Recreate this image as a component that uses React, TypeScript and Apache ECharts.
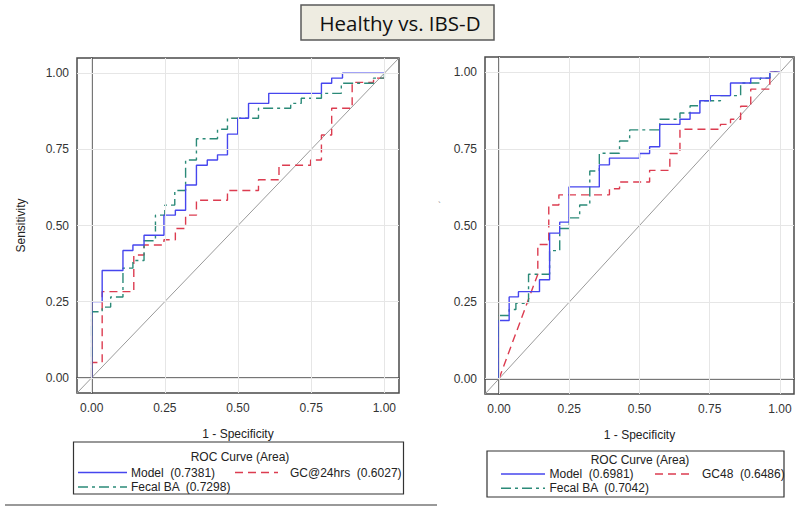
import React, { useEffect, useRef } from "react";
import * as echarts from "echarts";

// Tick values for both axes
const TICKS = [0, 0.25, 0.5, 0.75, 1];

// Step ROC points: [1 - specificity at the rise, sensitivity after the rise]
const LEFT_MODEL: number[][] = [
  [0, 0], [0, 0.25], [0.036, 0.352], [0.107, 0.418], [0.141, 0.436], [0.179, 0.468],
  [0.247, 0.534], [0.286, 0.55], [0.321, 0.633], [0.358, 0.698], [0.395, 0.715],
  [0.43, 0.732], [0.464, 0.8], [0.499, 0.852], [0.536, 0.901], [0.605, 0.934],
  [0.785, 0.967], [0.82, 0.984], [0.857, 1.0], [1.0, 1.0],
];
const LEFT_GC24: number[][] = [
  [0, 0], [0, 0.05], [0.036, 0.283], [0.144, 0.403], [0.179, 0.436], [0.247, 0.453],
  [0.286, 0.49], [0.321, 0.534], [0.358, 0.583], [0.464, 0.615], [0.57, 0.65],
  [0.64, 0.698], [0.748, 0.715], [0.785, 0.797], [0.82, 0.885], [0.89, 0.97],
  [0.963, 0.984], [1.0, 1.0],
];
const LEFT_FECAL: number[][] = [
  [0, 0], [0, 0.217], [0.036, 0.232], [0.065, 0.265], [0.107, 0.36], [0.141, 0.385],
  [0.179, 0.45], [0.218, 0.534], [0.25, 0.567], [0.284, 0.615], [0.321, 0.715],
  [0.358, 0.785], [0.43, 0.816], [0.464, 0.852], [0.57, 0.885], [0.68, 0.901],
  [0.716, 0.918], [0.785, 0.934], [0.853, 0.967], [0.963, 0.984], [1.0, 1.0],
];
const RIGHT_MODEL: number[][] = [
  [0, 0], [0, 0.19], [0.036, 0.267], [0.069, 0.284], [0.144, 0.323], [0.18, 0.475],
  [0.216, 0.511], [0.249, 0.626], [0.357, 0.698], [0.393, 0.72], [0.5, 0.735],
  [0.536, 0.757], [0.572, 0.83], [0.644, 0.847], [0.68, 0.867], [0.715, 0.907],
  [0.752, 0.924], [0.824, 0.965], [0.896, 0.981], [0.964, 1.0], [1.0, 1.0],
];
// GC48 starts with a diagonal (tied) segment from the origin
const RIGHT_GC48_START: number[] = [0, 0];
const RIGHT_GC48: number[][] = [
  [0.138, 0.341], [0.138, 0.438], [0.177, 0.567], [0.213, 0.6], [0.393, 0.62],
  [0.429, 0.642], [0.536, 0.68], [0.608, 0.735], [0.644, 0.814], [0.788, 0.83],
  [0.824, 0.847], [0.86, 0.889], [0.896, 0.945], [0.964, 1.0], [1.0, 1.0],
];
const RIGHT_FECAL: number[][] = [
  [0, 0], [0, 0.206], [0.036, 0.226], [0.06, 0.246], [0.105, 0.341], [0.18, 0.418],
  [0.216, 0.49], [0.25, 0.525], [0.287, 0.567], [0.323, 0.678], [0.357, 0.736],
  [0.429, 0.776], [0.465, 0.812], [0.572, 0.847], [0.644, 0.867], [0.68, 0.891],
  [0.715, 0.907], [0.788, 0.924], [0.86, 0.965], [0.93, 0.981], [0.964, 1.0], [1.0, 1.0],
];

const LEFT_LEGEND = ["Model  (0.7381)", "GC@24hrs  (0.6027)", "Fecal BA  (0.7298)"];
const RIGHT_LEGEND = ["Model  (0.6981)", "GC48  (0.6486)", "Fecal BA  (0.7042)"];
const TITLE = "Healthy vs. IBS-D";

const BLUE = "#4646ee";
const RED = "#dc3c50";
const GREEN = "#2b8a78";
const FONT = "'Liberation Sans', Arial, sans-serif";

function stepify(pts: number[][]): number[][] {
  const out: number[][] = [pts[0]];
  for (let i = 1; i < pts.length; i++) {
    out.push([pts[i][0], pts[i - 1][1]]);
    out.push(pts[i]);
  }
  return out;
}

function axes(idx: number) {
  const common = {
    type: "value",
    gridIndex: idx,
    min: -0.05,
    max: 1.05,
    axisLine: { show: true, lineStyle: { color: "#4a4a4a", width: 1.5 } },
    axisTick: { show: true, customValues: TICKS, length: 4, lineStyle: { color: "#4a4a4a" } },
    axisLabel: {
      customValues: TICKS,
      formatter: (v: number) => v.toFixed(2),
      color: "#333",
      fontSize: 12,
      fontFamily: FONT,
    },
    splitLine: { show: false },
  };
  return {
    x: {
      ...common,
      axisLabel: { ...common.axisLabel, margin: 9 },
      name: "1 - Specificity",
      nameLocation: "middle",
      nameGap: 35,
      nameTextStyle: { color: "#222", fontSize: 12, fontFamily: FONT },
    },
    y: {
      ...common,
      axisLabel: { ...common.axisLabel, margin: 8 },
      name: idx === 0 ? "Sensitivity" : "",
      nameLocation: "middle",
      nameGap: 50,
      nameTextStyle: { color: "#222", fontSize: 12, fontFamily: FONT },
    },
  };
}

function gridSeries(idx: number) {
  return {
    type: "line",
    xAxisIndex: idx,
    yAxisIndex: idx,
    data: [[-0.05, -0.05], [1.05, 1.05]],
    lineStyle: { opacity: 0 },
    symbol: "none",
    silent: true,
    z: 1,
    markLine: {
      silent: true,
      symbol: ["none", "none"],
      label: { show: false },
      lineStyle: { color: "#e6e6e6", type: "solid", width: 1 },
      data: [...TICKS.map((v) => ({ xAxis: v })), ...TICKS.map((v) => ({ yAxis: v }))],
    },
  };
}

function diagSeries(idx: number) {
  return {
    type: "line",
    xAxisIndex: idx,
    yAxisIndex: idx,
    data: [[-0.05, -0.05], [1.05, 1.05]],
    lineStyle: { color: "#9a9a9a", width: 1 },
    symbol: "none",
    silent: true,
    z: 2,
  };
}

function curve(idx: number, data: number[][], color: string, type: any) {
  return {
    type: "line",
    xAxisIndex: idx,
    yAxisIndex: idx,
    data,
    symbol: "none",
    lineStyle: { color, width: 1.4, type },
    z: 3,
  };
}

function legendGraphics(
  box: { x: number; y: number; w: number; h: number },
  titleX: number,
  titleY: number,
  row1: number,
  row2: number,
  s1: [number, number],
  t1: number,
  s2: [number, number],
  t2: number,
  labels: string[]
) {
  const txt = (x: number, y: number, text: string, align = "left") => ({
    type: "text",
    x,
    y,
    style: { text, fill: "#222", font: `12px ${FONT}`, textAlign: align, textVerticalAlign: "middle" },
  });
  const ln = (x1: number, x2: number, y: number, color: string, dash: any) => ({
    type: "line",
    shape: { x1, y1: y, x2, y2: y },
    style: { stroke: color, lineWidth: 1.4, lineDash: dash },
  });
  return [
    {
      type: "rect",
      shape: { x: box.x, y: box.y, width: box.w, height: box.h },
      style: { fill: "#fff", stroke: "#333", lineWidth: 1.2 },
    },
    txt(titleX, titleY, "ROC Curve (Area)", "center"),
    ln(s1[0], s1[1], row1, BLUE, null),
    txt(t1, row1, labels[0]),
    ln(s2[0], s2[1], row1, RED, [8, 5]),
    txt(t2, row1, labels[1]),
    ln(s1[0], s1[1], row2, GREEN, [10, 4, 3, 4]),
    txt(t1, row2, labels[2]),
  ];
}

export default function App() {
  const ref = useRef<HTMLDivElement>(null);
  useEffect(() => {
    if (!ref.current) return;
    const chart = echarts.init(ref.current, null, { renderer: "svg" });
    const a0 = axes(0);
    const a1 = axes(1);
    const option: any = {
      animation: false,
      backgroundColor: "#fff",
      grid: [
        { left: 77, top: 58, width: 322, height: 335, show: true, borderColor: "#4a4a4a", borderWidth: 1.5, backgroundColor: "#fff" },
        { left: 485, top: 57, width: 309, height: 337, show: true, borderColor: "#4a4a4a", borderWidth: 1.5, backgroundColor: "#fff" },
      ],
      xAxis: [a0.x, a1.x],
      yAxis: [a0.y, a1.y],
      series: [
        gridSeries(0),
        gridSeries(1),
        diagSeries(0),
        diagSeries(1),
        curve(0, stepify(LEFT_GC24), RED, [8, 5]),
        curve(0, stepify(LEFT_FECAL), GREEN, [10, 4, 3, 4]),
        curve(0, stepify(LEFT_MODEL), BLUE, "solid"),
        curve(1, [RIGHT_GC48_START, ...stepify(RIGHT_GC48)], RED, [8, 5]),
        curve(1, stepify(RIGHT_FECAL), GREEN, [10, 4, 3, 4]),
        curve(1, stepify(RIGHT_MODEL), BLUE, "solid"),
      ],
      graphic: [
        {
          type: "rect",
          shape: { x: 301, y: 5, width: 193, height: 35 },
          style: { fill: "#eeece1", stroke: "#5a5a5a", lineWidth: 1.5 },
        },
        {
          type: "text",
          x: 400,
          y: 23,
          style: {
            text: TITLE,
            fill: "#111",
            font: "20.5px 'Open Sans', Lato, sans-serif",
            textAlign: "center",
            textVerticalAlign: "middle",
          },
        },
        ...legendGraphics(
          { x: 73.5, y: 442, w: 330, h: 52 },
          240, 456.5, 472.5, 487,
          [78, 127], 131, [235, 278], 290, LEFT_LEGEND
        ),
        ...legendGraphics(
          { x: 487, y: 451, w: 297, h: 46 },
          640, 460, 474, 488.3,
          [501, 545], 549.5, [655, 693], 702, RIGHT_LEGEND
        ),
        {
          type: "line",
          shape: { x1: 5, y1: 505, x2: 437, y2: 505 },
          style: { stroke: "#777", lineWidth: 1.5 },
        },
        {
          type: "text",
          x: 438,
          y: 200,
          style: { text: "`", fill: "#888", font: `9px ${FONT}` },
        },
      ],
    };
    chart.setOption(option);
    return () => chart.dispose();
  }, []);
  return (
    <div
      ref={ref}
      style={{ position: "fixed", left: 0, top: 0, width: 800, height: 512 }}
    />
  );
}
